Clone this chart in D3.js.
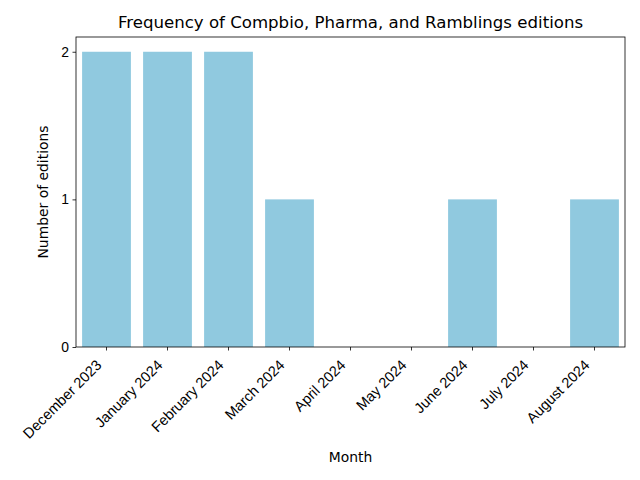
<!DOCTYPE html>
<html>
<head>
<meta charset="utf-8">
<script src="https://cdn.jsdelivr.net/npm/d3@7"></script>
<style>
  body { margin: 0; background: #fff; }
  svg { font-family: "DejaVu Sans", sans-serif; }
</style>
</head>
<body>
<svg id="chart"></svg>
<script>
// data
const months = ["December 2023", "January 2024", "February 2024", "March 2024",
  "April 2024", "May 2024", "June 2024", "July 2024", "August 2024"];
const editions = [2, 2, 2, 1, 0, 0, 1, 0, 1];
const yTicks = [0, 1, 2];

const width = 640;
const height = 480;
const margin = { top: 37, right: 15, bottom: 133, left: 76 };

const svg = d3.select("#chart")
  .attr("width", width)
  .attr("height", height);

// seaborn-style categories: bar width 0.8, half step at each end
const xScale = d3.scaleBand()
  .domain(months)
  .range([margin.left, width - margin.right])
  .paddingInner(0.2)
  .paddingOuter(0.1);

const yScale = d3.scaleLinear()
  .domain([0, 2.1])
  .range([height - margin.bottom, margin.top]);

const data = months.map((m, i) => ({ month: m, value: editions[i] }));

svg.selectAll("rect.bar")
  .data(data)
  .enter()
  .append("rect")
  .attr("class", "bar")
  .attr("x", d => xScale(d.month))
  .attr("y", d => yScale(d.value))
  .attr("width", xScale.bandwidth())
  .attr("height", d => yScale(0) - yScale(d.value))
  .attr("fill", "#90c9df");

// axes
const xAxis = svg.append("g")
  .attr("transform", `translate(0, ${height - margin.bottom})`)
  .call(d3.axisBottom(xScale).tickSize(3.5).tickPadding(3.5).tickSizeOuter(0));

xAxis.selectAll("text")
  .style("font-size", "14.6px")
  .attr("fill", "#000")
  .attr("text-anchor", "end")
  .attr("x", 0)
  .attr("y", 0)
  .attr("dy", 0)
  .attr("transform", "translate(-4, 19) rotate(-45)");

const yAxis = svg.append("g")
  .attr("transform", `translate(${margin.left}, 0)`)
  .call(d3.axisLeft(yScale).tickValues(yTicks).tickFormat(d3.format("d"))
    .tickSize(3.5).tickPadding(3.5).tickSizeOuter(0));

yAxis.selectAll("text").style("font-size", "13.9px").attr("fill", "#000");

[xAxis, yAxis].forEach(a => {
  a.select(".domain").remove();
  a.selectAll("line").attr("stroke", "#000").attr("stroke-width", 0.8);
});

// frame
svg.append("rect")
  .attr("x", margin.left)
  .attr("y", margin.top)
  .attr("width", width - margin.left - margin.right)
  .attr("height", height - margin.top - margin.bottom)
  .attr("fill", "none")
  .attr("stroke", "#000")
  .attr("stroke-width", 0.8);

// labels
svg.append("text")
  .attr("x", (margin.left + width - margin.right) / 2)
  .attr("y", 462)
  .attr("text-anchor", "middle")
  .style("font-size", "13.9px")
  .text("Month");

svg.append("text")
  .attr("transform", "rotate(-90)")
  .attr("x", -(margin.top + height - margin.bottom) / 2)
  .attr("y", 48)
  .attr("text-anchor", "middle")
  .style("font-size", "13.9px")
  .text("Number of editions");

svg.append("text")
  .attr("x", (margin.left + width - margin.right) / 2)
  .attr("y", 28)
  .attr("text-anchor", "middle")
  .style("font-size", "16.6px")
  .text("Frequency of Compbio, Pharma, and Ramblings editions");
</script>
</body>
</html>
